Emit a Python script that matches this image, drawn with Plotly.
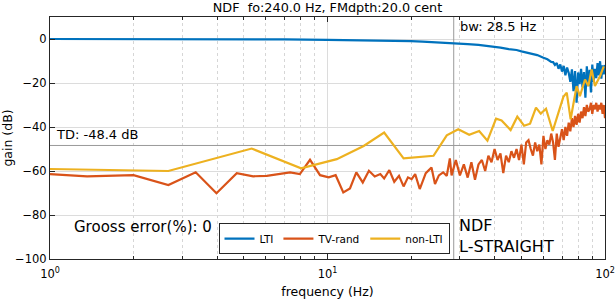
import math
import plotly.graph_objects as go

# ---------------- data ----------------
title_text = "NDF&nbsp;&nbsp;fo:240.0 Hz, FMdpth:20.0 cent"
bw_hz = 28.5
td_db = -48.4
gross_error = 0

x_tickvals = [1, 10, 100]
x_ticktext = ["10<sup>0</sup>", "10<sup>1</sup>", "10<sup>2</sup>"]
x_minor = [2, 3, 4, 5, 6, 7, 8, 9, 20, 30, 40, 50, 60, 70, 80, 90]
y_tickvals = [-100, -80, -60, -40, -20, 0]

lti_f = [1, 2, 3, 5, 7, 10, 12, 15, 18, 20, 22, 25, 28, 30, 32, 35, 38, 40, 42, 45,
         48, 50, 52, 55, 57, 60, 62, 64,
         65, 66, 67, 68, 69, 70, 71, 72, 73, 74, 75, 76, 77, 78, 79, 80, 81, 82, 83,
         84, 85, 86, 87, 88, 89, 90, 91, 92, 93, 94, 95, 96, 97, 98, 99, 100]
lti_db = [0, 0, 0, -0.1, -0.2, -0.4, -0.5, -0.7, -0.9, -1.0, -1.2, -1.5, -1.8, -2.1,
          -2.3, -2.7, -3.1, -3.5, -3.9, -4.6, -5.0, -5.6, -6.1, -6.6, -7.3, -8.5, -9.2,
          -10.4,
          -10.5, -11.8, -10.9, -13.5, -11.6, -14.8, -12.2, -16.5, -13.0, -15.4, -19.5,
          -13.8, -23.7, -14.6, -29.0, -15.2, -20.5, -13.6, -22.0, -15.0, -26.7, -12.4,
          -21.4, -14.0, -24.3, -11.6, -19.5, -13.6, -17.8, -11.0, -16.5, -10.1, -18.0,
          -12.0, -16.1, -11.8]

tv_f = [1, 1.36, 2, 2.67, 3.35, 3.98, 4.71, 5.4, 6.04, 7.33, 7.95, 8.65, 9.4, 10.1,
        10.7, 11.4, 12.05, 12.7, 13.4, 14.1, 14.8, 15.5, 16.0, 16.7, 17.4, 18.1, 18.8,
        19.5, 20.1, 20.7, 21.5, 22.6, 23.7, 24.4, 25.2, 26.1, 26.9, 27.6,
        28, 29, 30, 31, 32, 33, 34, 35, 36, 37, 38, 39, 40, 41, 42, 43, 44, 45, 46, 47,
        48, 49, 50, 51, 52, 53, 54, 55, 56, 57, 58, 59, 60, 61, 62, 63, 64, 65, 66, 67,
        68, 69, 70, 71, 72, 73, 74, 75, 76, 77, 78, 79, 80, 81, 82, 83, 84, 85, 86, 87,
        88, 89, 90, 91, 92, 93, 94, 95, 96, 97, 98, 99, 100]
tv_db = [-61.4, -62.4, -61.9, -66.4, -60.6, -70.1, -61.0, -62.4, -62.2, -60.6, -61.4,
         -54.9, -61.9, -62.9, -61.9, -69.7, -67.9, -60.6, -65.2, -59.9, -62.5, -61.4,
         -63.4, -59.6, -64.9, -62.2, -67.0, -62.9, -63.7, -61.4, -68.2, -61.0, -58.4,
         -65.9, -62.0, -60.6, -62.2, -54.3,
         -62.0, -55.0, -62.0, -57.0, -63.0, -56.0, -64.0, -57.0, -55.0, -60.0, -53.0,
         -56.0, -50.0, -55.0, -52.0, -61.0, -53.0, -56.0, -51.0, -54.0, -50.0, -55.0,
         -48.0, -57.0, -47.0, -46.0, -50.0, -53.0, -47.0, -51.0, -48.0, -57.0, -44.0,
         -50.0, -46.0, -48.0, -43.0, -47.0, -55.0, -43.0, -49.0, -45.0, -41.0, -46.0,
         -40.0, -44.0, -38.0, -42.0, -36.0, -40.0, -35.0, -39.0, -34.0, -38.0, -33.0,
         -36.0, -31.0, -35.0, -30.0, -33.0, -32.0, -29.0, -34.0, -30.0, -32.0, -29.0,
         -33.0, -30.0, -32.0, -29.0, -34.0, -30.0, -36.0]

nl_f = [1, 2, 2.67, 5.33, 8.03, 10.8, 13.5, 16.0, 18.8, 24.1, 26.9, 29.6, 32.4, 35.2,
        37.7, 40.5, 42.4, 45.7, 48.3, 51.1, 53.7, 56.4, 58.7, 61.3, 64.8, 70.8, 72.8,
        75.2, 79.0, 81.2, 84.7, 87.1, 89.5, 92.0, 95.9, 99.0]
nl_db = [-59.1, -59.9, -60.0, -49.8, -58.8, -54.6, -48.6, -42.5, -54.3, -53.1, -43.8,
         -41.0, -43.5, -41.8, -46.2, -36.2, -37.0, -41.4, -35.3, -39.4, -38.5, -31.2,
         -33.9, -31.7, -41.8, -26.3, -24.4, -36.5, -21.4, -26.0, -18.4, -21.4, -13.9,
         -21.4, -16.9, -12.4]

# ---------------- figure ----------------
FONT = "DejaVu Sans, Verdana, sans-serif"
AX = "#262626"
fig = go.Figure()

# reference lines (bw and TD)
fig.add_trace(go.Scatter(x=[bw_hz, bw_hz], y=[-100, 10], mode="lines",
                         line=dict(color="#9a9a9a", width=1), showlegend=False,
                         hoverinfo="skip"))
fig.add_trace(go.Scatter(x=[1, 100], y=[td_db, td_db], mode="lines",
                         line=dict(color="#9a9a9a", width=1), showlegend=False,
                         hoverinfo="skip"))

fig.add_trace(go.Scatter(x=lti_f, y=lti_db, mode="lines", name="LTI",
                         line=dict(color="#0072BD", width=2.2)))
fig.add_trace(go.Scatter(x=tv_f, y=tv_db, mode="lines", name="TV-rand",
                         line=dict(color="#D95319", width=2.2)))
fig.add_trace(go.Scatter(x=nl_f, y=nl_db, mode="lines", name="non-LTI",
                         line=dict(color="#EDB120", width=2.2)))

fig.update_layout(
    width=615, height=300,
    margin=dict(l=50, r=10, t=17, b=41, autoexpand=False),
    paper_bgcolor="white", plot_bgcolor="white",
    font=dict(family=FONT, size=11, color=AX),
    title=dict(text=title_text, x=(50 + 605) / 2 / 615, xanchor="center",
               y=1 - 8 / 300, yanchor="middle", font=dict(size=12.8, color="#000")),
    showlegend=True,
    legend=dict(orientation="h", x=(334 - 50) / 555, xanchor="center", y=0.02,
                yanchor="bottom", bgcolor="white", bordercolor=AX, borderwidth=1,
                font=dict(size=10.5, color="#000"), itemwidth=30,
                tracegroupgap=0),
)

fig.update_xaxes(
    type="log", range=[0, 2], automargin=False,
    tickvals=x_tickvals, ticktext=x_ticktext,
    ticks="inside", ticklen=5, tickcolor=AX, ticklabelstandoff=4,
    showline=True, linecolor=AX, linewidth=1, mirror="ticks",
    showgrid=True, gridcolor="#dcdcdc", gridwidth=1,
    minor=dict(tickvals=x_minor, ticks="inside", ticklen=3, tickcolor=AX,
               showgrid=True, gridcolor="#d6d6d6", griddash="dot", gridwidth=1),
    zeroline=False,
    title=dict(text="frequency (Hz)", standoff=7, font=dict(size=12.5, color="#000")),
    tickfont=dict(size=11.5, color="#000"),
)
fig.update_yaxes(
    range=[-100, 10], tickvals=y_tickvals, automargin=False,
    ticks="inside", ticklen=5, tickcolor=AX,
    showline=True, linecolor=AX, linewidth=1, mirror="ticks",
    showgrid=True, gridcolor="#dcdcdc", gridwidth=1, zeroline=False,
    title=dict(text="gain (dB)", standoff=6, font=dict(size=12.5, color="#000")),
    tickfont=dict(size=11.5, color="#000"),
)

fig.add_annotation(x=math.log10(bw_hz), y=(259 - 27) / 242, xref="x", yref="paper",
                   text=f"bw: {bw_hz:.1f} Hz", showarrow=False, xanchor="left",
                   yanchor="middle", xshift=4, font=dict(size=13, color="#000"))
fig.add_annotation(x=0, y=td_db, xref="x", yref="y",
                   text=f"TD: {td_db:.1f} dB", showarrow=False, xanchor="left",
                   yanchor="bottom", xshift=4, yshift=1, font=dict(size=13, color="#000"))
fig.add_annotation(x=0.04, y=-85.5, xref="paper", yref="y",
                   text=f"Grooss error(%): {gross_error}", showarrow=False,
                   xanchor="left", yanchor="middle", font=dict(size=15, color="#000"))
fig.add_annotation(x=math.log10(bw_hz), y=-100, xref="x", yref="y",
                   text="NDF<br>L-STRAIGHT", showarrow=False, xanchor="left",
                   yanchor="bottom", align="left", xshift=3, yshift=1,
                   font=dict(size=16, color="#000"))

fig.write_html("out.html", config={"displayModeBar": False},
               post_script="document.body.style.margin='0px';")
